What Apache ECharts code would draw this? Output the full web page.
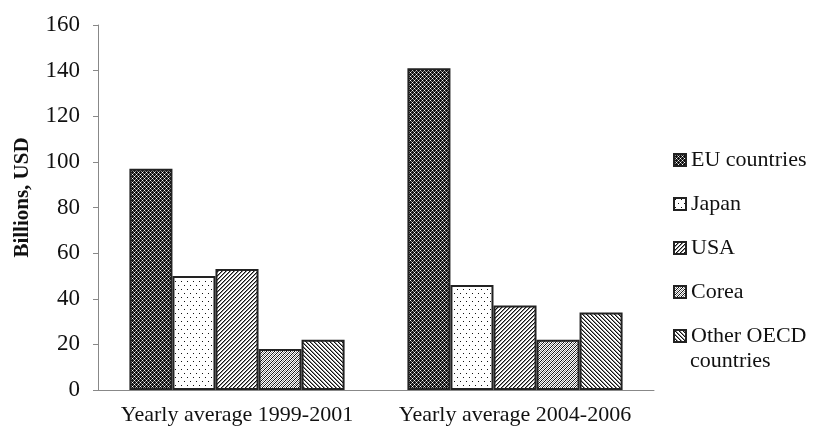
<!DOCTYPE html>
<html><head><meta charset="utf-8">
<script src="https://cdn.jsdelivr.net/npm/echarts@6/dist/echarts.min.js"></script>
<style>html,body{margin:0;padding:0;background:#fff}#c{width:813px;height:430px}</style>
</head><body><div id="c"></div>
<script>
var categories = ['Yearly average 1999-2001', 'Yearly average 2004-2006'];
var seriesNames = ['EU countries', 'Japan', 'USA', 'Corea', 'Other OECD countries'];
var euValues = [97, 141];
var japanValues = [50, 46];
var usaValues = [53, 37];
var coreaValues = [18, 22];
var otherValues = [22, 34];
var yTicks = [0, 20, 40, 60, 80, 100, 120, 140, 160];

function tile(rows) {
  var h = rows.length, w = rows[0].length;
  var c = document.createElement('canvas'); c.width = w; c.height = h;
  var g = c.getContext('2d');
  var map = {K: '#111', G: '#8a8a8a', W: '#ffffff', D: '#444'};
  for (var y = 0; y < h; y++) for (var x = 0; x < w; x++) {
    g.fillStyle = map[rows[y][x]]; g.fillRect(x, y, 1, 1);
  }
  return {image: c, repeat: 'repeat'};
}
var patterns = [
  tile(['KKWK', 'KGKG', 'WKKK', 'KGKG']),
  tile(['WWWWWW', 'WKWWWW', 'WWWWWW', 'WWWWWW', 'WWWWWW', 'WWWWKW', 'WWWWWW', 'WWWWWW']),
  tile(['KGWW', 'GWWK', 'WWKG', 'WKGW']),
  tile(['WKWG', 'KWGW', 'WGWK', 'GWKW']),
  tile(['KGWW', 'WKGW', 'WWKG', 'GWWK'])
];
var values = [euValues, japanValues, usaValues, coreaValues, otherValues];
var font = 'Liberation Serif';

var chart = echarts.init(document.getElementById('c'));
chart.setOption({
  animation: false,
  grid: {left: 98, right: 159, top: 25, bottom: 40, containLabel: false, outerBoundsMode: 'none'},
  legend: {
    orient: 'vertical', left: 668, top: 143, itemWidth: 12, itemHeight: 12, itemGap: 20,
    icon: 'rect',
    formatter: function (n) { return n === 'Other OECD countries' ? 'Other OECD' : n; },
    textStyle: {fontFamily: font, fontSize: 22, color: '#111', lineHeight: 24},
    data: seriesNames
  },
  graphic: [{type: 'text', left: 690, top: 350, style: {text: 'countries', font: '22px "Liberation Serif"', fill: '#111'}}],
  xAxis: {
    type: 'category', data: categories,
    axisLine: {lineStyle: {color: '#888'}}, axisTick: {show: false},
    axisLabel: {fontFamily: font, fontSize: 22, color: '#111', margin: 14, interval: 0}
  },
  yAxis: {
    type: 'value', min: 0, max: 160, interval: 20,
    name: 'Billions, USD', nameLocation: 'middle', nameGap: 65,
    nameTextStyle: {fontFamily: font, fontSize: 21, fontWeight: 'bold', color: '#111', padding: [0, 0, 0, 20]},
    axisLine: {show: true, lineStyle: {color: '#888'}},
    axisTick: {show: true, length: 5, lineStyle: {color: '#888'}},
    splitLine: {show: false},
    axisLabel: {fontFamily: font, fontSize: 23, color: '#111', margin: 18,
      formatter: function (v) { return yTicks.indexOf(v) >= 0 ? String(v) : ''; }}
  },
  series: seriesNames.map(function (n, i) {
    return {
      name: n, type: 'bar', data: values[i], barGap: '0%', barCategoryGap: '22.6%',
      itemStyle: {color: patterns[i], borderColor: '#222', borderWidth: 2}
    };
  })
});
</script></body></html>
